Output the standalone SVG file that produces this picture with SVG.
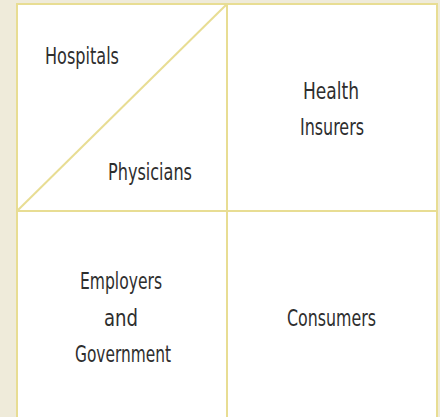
<svg xmlns="http://www.w3.org/2000/svg" width="440" height="417" viewBox="0 0 440 417">
  <style>
    .rule { stroke: #e8dd93; stroke-width: 2; fill: none; }
    .lbl { font-family: "Liberation Sans Narrow", "DejaVu Sans Condensed", "Liberation Sans", sans-serif; font-size: 22.5px; fill: #2e2e2e; text-anchor: middle; }
  </style>
  <!-- page background -->
  <rect x="0" y="0" width="440" height="417" fill="#efebda"/>
  <!-- white quadrant panel -->
  <rect x="17" y="4" width="420" height="420" fill="#ffffff"/>

  <g id="connectors">
    <rect class="rule" x="17" y="4" width="420" height="420"/>
    <line class="rule" x1="227" y1="4" x2="227" y2="417"/>
    <line class="rule" x1="17" y1="211" x2="437" y2="211"/>
    <line class="rule" x1="17" y1="211" x2="227" y2="4"/>
  </g>

  <g id="hospitals">
    <text class="lbl" x="82" y="64" textLength="74" lengthAdjust="spacingAndGlyphs">Hospitals</text>
  </g>
  <g id="physicians">
    <text class="lbl" x="150" y="180" textLength="84" lengthAdjust="spacingAndGlyphs">Physicians</text>
  </g>
  <g id="health-insurers">
    <text class="lbl" x="331" y="99" textLength="56" lengthAdjust="spacingAndGlyphs">Health</text>
    <text class="lbl" x="332" y="135" textLength="64" lengthAdjust="spacingAndGlyphs">Insurers</text>
  </g>
  <g id="employers-government">
    <text class="lbl" x="121" y="289" textLength="82" lengthAdjust="spacingAndGlyphs">Employers</text>
    <text class="lbl" x="121" y="326" textLength="34" lengthAdjust="spacingAndGlyphs">and</text>
    <text class="lbl" x="123" y="362" textLength="96" lengthAdjust="spacingAndGlyphs">Government</text>
  </g>
  <g id="consumers">
    <text class="lbl" x="331.5" y="326" textLength="89" lengthAdjust="spacingAndGlyphs">Consumers</text>
  </g>
</svg>
